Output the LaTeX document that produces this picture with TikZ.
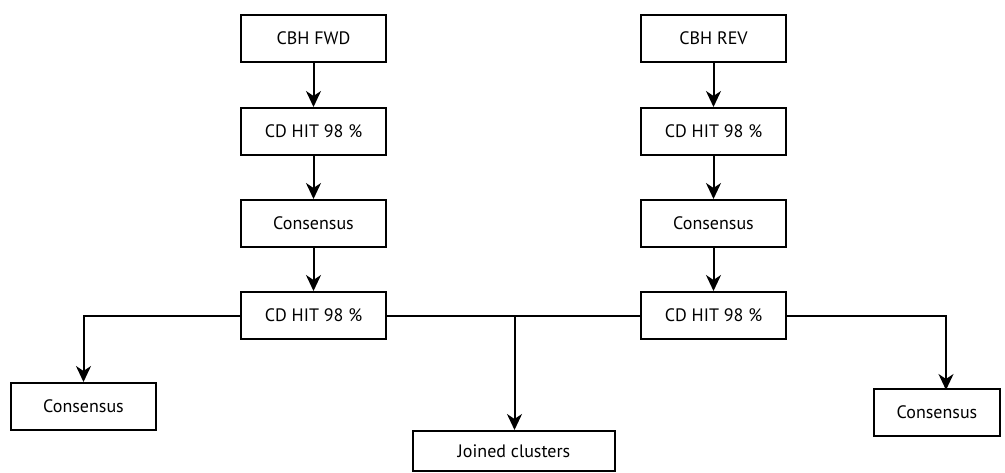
\documentclass[tikz,border=0pt]{standalone}
\usepackage{fontspec}
\setmainfont{PT Sans}
\usetikzlibrary{arrows.meta}
\begin{document}
\begin{tikzpicture}[x=1pt,y=-1pt,
  box/.style={draw,line width=2pt,minimum width=145pt,minimum height=47pt,inner sep=0pt,font=\fontsize{18}{20}\selectfont},
  conn/.style={line width=2pt},
  arr/.style={conn,-{Stealth[length=16pt,width=15pt,inset=5pt]}}]
\useasboundingbox (0,0) rectangle (1005,472);
\node[box] (f1) at (313.5,38.5) {CBH FWD};
\node[box] (f2) at (313.5,131.5) {CD HIT 98 \%};
\node[box] (f3) at (313.5,223.5) {Consensus};
\node[box] (f4) at (313.5,315.5) {CD HIT 98 \%};
\node[box] (r1) at (713.5,38.5) {CBH REV};
\node[box] (r2) at (713.5,131.5) {CD HIT 98 \%};
\node[box] (r3) at (713.5,223.5) {Consensus};
\node[box] (r4) at (713.5,315.5) {CD HIT 98 \%};
\node[box] (lc) at (83.5,406.5) {Consensus};
\node[box,minimum width=202pt,minimum height=40pt] (jc) at (514,451) {Joined clusters};
\node[box,minimum width=126pt] (rc) at (937,412.5) {Consensus};
\coordinate (mid) at (514.5,315.5);
\coordinate (rdrop) at (946,390);
\draw[arr] (f1) -- (f2);
\draw[arr] (f2) -- (f3);
\draw[arr] (f3) -- (f4);
\draw[arr] (r1) -- (r2);
\draw[arr] (r2) -- (r3);
\draw[arr] (r3) -- (r4);
\draw[conn] (f4) -- (r4);
\draw[arr] (mid) -- (jc.north -| mid);
\draw[arr] (f4.west) -| (lc.north);
\draw[arr] (r4.east) -| (rdrop);
\end{tikzpicture}
\end{document}
